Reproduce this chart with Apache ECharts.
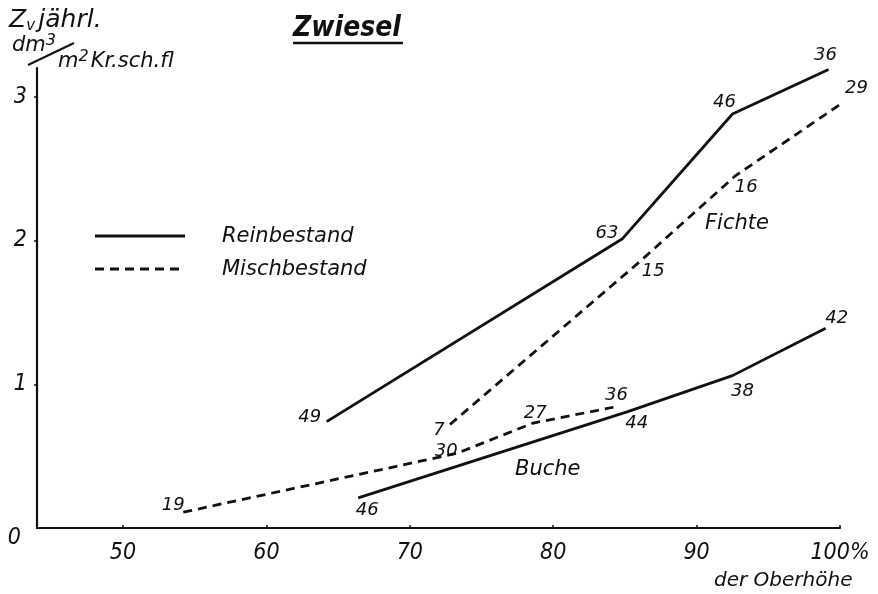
<!DOCTYPE html>
<html>
<head>
<meta charset="utf-8">
<script src="https://cdn.jsdelivr.net/npm/echarts@6/dist/echarts.min.js"></script>
<style>html,body{margin:0;padding:0;background:#fff}#c{width:878px;height:594px}</style>
</head>
<body>
<div id="c"></div>
<script>
// ---- data ----
const fichteReinX = [64.2, 84.8, 92.5, 99.2];
const fichteReinY = [0.74, 2.01, 2.88, 3.19];
const fichteReinN = ['49', '63', '46', '36'];

const fichteMischX = [72.8, 86.0, 92.7, 100.8];
const fichteMischY = [0.72, 1.85, 2.45, 3.00];
const fichteMischN = ['7', '15', '16', '29'];

const bucheReinX = [66.4, 85.2, 92.5, 99.0];
const bucheReinY = [0.21, 0.81, 1.06, 1.39];
const bucheReinN = ['46', '44', '38', '42'];

const bucheMischX = [54.2, 73.3, 78.6, 84.2];
const bucheMischY = [0.11, 0.52, 0.73, 0.84];
const bucheMischN = ['19', '30', '27', '36'];

const xTicks = [50, 60, 70, 80, 90, 100];
const yTicks = [0, 1, 2, 3];

// ---- label offsets (style, px) ----
const offFR = [[-17, -4], [-15, -6], [-8, -12], [-3, -14]];
const offFM = [[-11, 6], [14, 9], [11, 12], [5, -8]];
const offBR = [[9, 13], [9, 12], [10, 16], [11, -10]];
const offBM = [[-10, -7], [-11, -2], [2, -10], [3, -12]];

const FN = '"Liberation Sans Narrow","DejaVu Sans Condensed",sans-serif';
const FR = '"DejaVu Sans",sans-serif';

function build(xs, ys, ns, offs) {
  return xs.map((x, i) => ({
    value: [x, ys[i]],
    label: { show: true, formatter: ns[i], position: 'inside', offset: offs[i] }
  }));
}

function lineSeries(name, data, dashed) {
  return {
    type: 'line',
    name: name,
    data: data,
    clip: false,
    symbol: 'circle',
    symbolSize: 1,
    itemStyle: { color: 'transparent', borderWidth: 0 },
    lineStyle: { color: '#111', width: 2.8, type: dashed ? [9, 6] : 'solid', cap: 'butt' },
    label: {
      color: '#111', fontSize: 18, fontStyle: 'italic', fontFamily: FR
    },
    emphasis: { disabled: true },
    silent: true,
    animation: false
  };
}

const chart = echarts.init(document.getElementById('c'));
chart.setOption({
  backgroundColor: '#fff',
  animation: false,
  grid: { left: 37, right: 38, top: 68, bottom: 66 },
  xAxis: {
    type: 'value', min: 44, max: 100,
    axisLine: { show: true, lineStyle: { color: '#111', width: 2.2 } },
    axisTick: { show: true, customValues: xTicks, inside: true, length: 3, lineStyle: { color: '#111', width: 1.5 } },
    axisLabel: {
      customValues: xTicks, margin: 14, color: '#111', fontSize: 23, fontStyle: 'italic', fontFamily: FN,
      formatter: v => v === 100 ? '100%' : String(v)
    },
    splitLine: { show: false }
  },
  yAxis: {
    type: 'value', min: 0, max: 3.2,
    axisLine: { show: true, lineStyle: { color: '#111', width: 2.2 } },
    axisTick: { show: true, customValues: [1, 2, 3], length: 3, lineStyle: { color: '#111', width: 1.5 } },
    axisLabel: {
      customValues: yTicks, margin: 10, color: '#111', fontSize: 23, fontStyle: 'italic', fontFamily: FN,
      formatter: v => v === 0 ? '{z|0}' : String(v),
      rich: { z: { fontSize: 23, fontStyle: 'italic', fontFamily: FN, color: '#111', padding: [20, 6, 0, 0] } }
    },
    splitLine: { show: false }
  },
  series: [
    lineSeries('Reinbestand', build(fichteReinX, fichteReinY, fichteReinN, offFR), false),
    lineSeries('Mischbestand', build(fichteMischX, fichteMischY, fichteMischN, offFM), true),
    lineSeries('Reinbestand', build(bucheReinX, bucheReinY, bucheReinN, offBR), false),
    lineSeries('Mischbestand', build(bucheMischX, bucheMischY, bucheMischN, offBM), true)
  ],
  graphic: [
    // title
    { type: 'text', left: 293, top: 15, style: { text: 'Zwiesel', font: 'italic bold 28px ' + FN, fill: '#111' } },
    { type: 'line', shape: { x1: 293, y1: 43, x2: 403, y2: 43 }, style: { stroke: '#111', lineWidth: 2.5 } },
    // y axis title
    { type: 'text', left: 9, top: 8, style: {
        text: '{a|Z}{s|v} {a|jährl.}',
        rich: { a: { font: 'italic 25px ' + FR, fill: '#111' }, s: { font: 'italic 15px ' + FR, fill: '#111', padding: [12, 0, 0, 0] } }
      } },
    { type: 'text', left: 12, top: 33, style: {
        text: '{a|dm}{s|3}',
        rich: { a: { font: 'italic 21px ' + FR, fill: '#111' }, s: { font: 'italic 16px ' + FR, fill: '#111', padding: [0, 0, 10, 0] } }
      } },
    { type: 'line', shape: { x1: 28, y1: 65, x2: 74, y2: 43 }, style: { stroke: '#111', lineWidth: 2 } },
    { type: 'text', left: 58, top: 49, style: {
        text: '{a|m}{s|2}{b|Kr.sch.fl}',
        rich: { a: { font: 'italic 21px ' + FR, fill: '#111' }, s: { font: 'italic 16px ' + FR, fill: '#111', padding: [0, 2, 10, 0] },
                b: { font: 'italic 21px ' + FR, fill: '#111' } }
      } },
    // x axis title
    { type: 'text', left: 714, top: 571, style: { text: 'der Oberhöhe', font: 'italic 20px ' + FR, fill: '#111' } },
    // legend
    { type: 'line', shape: { x1: 95, y1: 236, x2: 185, y2: 236 }, style: { stroke: '#111', lineWidth: 2.8 } },
    { type: 'line', shape: { x1: 95, y1: 269, x2: 185, y2: 269 }, style: { stroke: '#111', lineWidth: 2.8, lineDash: [9, 6] } },
    { type: 'text', left: 222, top: 226, style: { text: 'Reinbestand', font: 'italic 21px ' + FR, fill: '#111' } },
    { type: 'text', left: 222, top: 259, style: { text: 'Mischbestand', font: 'italic 21px ' + FR, fill: '#111' } },
    // species annotations
    { type: 'text', left: 705, top: 213, style: { text: 'Fichte', font: 'italic 21px ' + FR, fill: '#111' } },
    { type: 'text', left: 515, top: 459, style: { text: 'Buche', font: 'italic 21px ' + FR, fill: '#111' } }
  ]
});
</script>
</body>
</html>
